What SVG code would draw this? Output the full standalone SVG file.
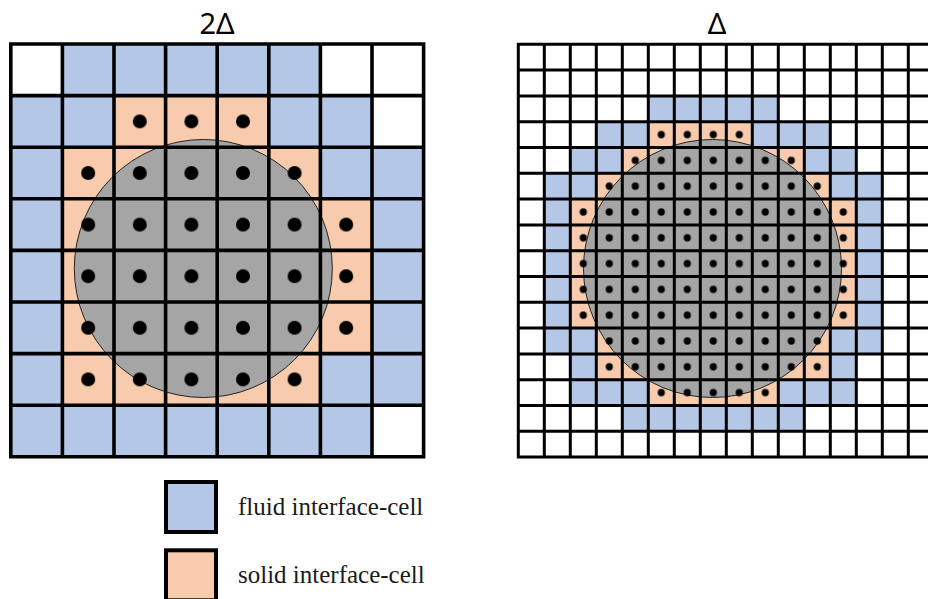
<svg xmlns="http://www.w3.org/2000/svg" width="928" height="599" viewBox="0 0 928 599">
<style>
.blue{fill:#b4c7e7}
.orange{fill:#f8cbad}
.disk{fill:#a5a5a5;stroke:#222;stroke-width:1}
.gridL{fill:none;stroke:#000;stroke-width:3.6;stroke-linecap:square}
.gridR{fill:none;stroke:#000;stroke-width:3;stroke-linecap:square}
.title{font-family:"Noto Sans","Liberation Sans",sans-serif;font-size:29px;fill:#000;text-anchor:middle}
.legend{font-family:"Liberation Serif","Times New Roman",serif;font-size:25px;fill:#1a1a1a}
</style>
<defs>
<pattern id="dotsL" patternUnits="userSpaceOnUse" x="10.8" y="44" width="51.6" height="51.6">
<circle cx="25.8" cy="25.8" r="7" fill="#000"/>
</pattern>
<pattern id="dotsR" patternUnits="userSpaceOnUse" x="518.3" y="44.3" width="26" height="25.8">
<circle cx="13" cy="12.9" r="3.6" fill="#000"/>
</pattern>
</defs>
<rect width="928" height="599" fill="#fff"/>

<g id="grid-2delta">
<text class="title" x="217" y="33.5">2Δ</text>
<g class="blue">
<rect x="62.4" y="44" width="258" height="51.6"/>
<rect x="10.8" y="95.6" width="51.6" height="361.2"/>
<rect x="62.4" y="95.6" width="51.6" height="51.6"/>
<rect x="268.8" y="95.6" width="103.2" height="51.6"/>
<rect x="320.4" y="147.2" width="51.6" height="51.6"/>
<rect x="372" y="147.2" width="51.6" height="258"/>
<rect x="320.4" y="353.6" width="51.6" height="51.6"/>
<rect x="62.4" y="405.2" width="309.6" height="51.6"/>
</g>
<g class="orange">
<rect x="114" y="95.6" width="154.8" height="51.6"/>
<rect x="62.4" y="147.2" width="258" height="51.6"/>
<rect x="62.4" y="198.8" width="309.6" height="154.8"/>
<rect x="62.4" y="353.6" width="258" height="51.6"/>
</g>
<circle class="disk" cx="203.3" cy="268.5" r="129"/>
<path class="gridL" d="M10.8 44v412.8m51.6-412.8v412.8m51.6-412.8v412.8m51.6-412.8v412.8m51.6-412.8v412.8m51.6-412.8v412.8m51.6-412.8v412.8m51.6-412.8v412.8m51.6-412.8v412.8M10.8 44h412.8m-412.8 51.6h412.8m-412.8 51.6h412.8m-412.8 51.6h412.8m-412.8 51.6h412.8m-412.8 51.6h412.8m-412.8 51.6h412.8m-412.8 51.6h412.8m-412.8 51.6h412.8"/>
<g fill="url(#dotsL)">
<rect x="114" y="95.6" width="154.8" height="51.6"/>
<rect x="62.4" y="147.2" width="258" height="51.6"/>
<rect x="62.4" y="198.8" width="309.6" height="154.8"/>
<rect x="62.4" y="353.6" width="258" height="51.6"/>
</g>
</g>

<g id="grid-delta">
<text class="title" x="717" y="33.5">Δ</text>
<g class="blue">
<rect x="648.3" y="95.9" width="130" height="25.8"/>
<rect x="596.3" y="121.7" width="52" height="25.8"/>
<rect x="752.3" y="121.7" width="78" height="25.8"/>
<rect x="570.3" y="147.5" width="52" height="25.8"/>
<rect x="804.3" y="147.5" width="52" height="25.8"/>
<rect x="544.3" y="173.3" width="26" height="180.6"/>
<rect x="856.3" y="173.3" width="26" height="180.6"/>
<rect x="570.3" y="173.3" width="26" height="25.8"/>
<rect x="830.3" y="173.3" width="26" height="25.8"/>
<rect x="570.3" y="328.1" width="26" height="77.4"/>
<rect x="830.3" y="328.1" width="26" height="77.4"/>
<rect x="596.3" y="379.7" width="52" height="25.8"/>
<rect x="778.3" y="379.7" width="52" height="25.8"/>
<rect x="622.3" y="405.5" width="182" height="25.8"/>
</g>
<g class="orange">
<rect x="648.3" y="121.7" width="104" height="25.8"/>
<rect x="622.3" y="147.5" width="182" height="25.8"/>
<rect x="596.3" y="173.3" width="234" height="25.8"/>
<rect x="570.3" y="199.1" width="286" height="129"/>
<rect x="596.3" y="328.1" width="234" height="51.6"/>
<rect x="648.3" y="379.7" width="130" height="25.8"/>
</g>
<circle class="disk" cx="712.5" cy="268.5" r="129"/>
<path class="gridR" d="M518.3 44.3v412.8m26-412.8v412.8m26-412.8v412.8m26-412.8v412.8m26-412.8v412.8m26-412.8v412.8m26-412.8v412.8m26-412.8v412.8m26-412.8v412.8m26-412.8v412.8m26-412.8v412.8m26-412.8v412.8m26-412.8v412.8m26-412.8v412.8m26-412.8v412.8m26-412.8v412.8m26-412.8v412.8M518.3 44.3h416m-416 25.8h416m-416 25.8h416m-416 25.8h416m-416 25.8h416m-416 25.8h416m-416 25.8h416m-416 25.8h416m-416 25.8h416m-416 25.8h416m-416 25.8h416m-416 25.8h416m-416 25.8h416m-416 25.8h416m-416 25.8h416m-416 25.8h416m-416 25.8h416"/>
<g fill="url(#dotsR)">
<rect x="648.3" y="121.7" width="104" height="25.8"/>
<rect x="622.3" y="147.5" width="182" height="25.8"/>
<rect x="596.3" y="173.3" width="234" height="25.8"/>
<rect x="570.3" y="199.1" width="286" height="129"/>
<rect x="596.3" y="328.1" width="234" height="51.6"/>
<rect x="648.3" y="379.7" width="130" height="25.8"/>
</g>
</g>

<g id="legend-fluid">
<rect class="blue" x="166" y="482" width="50" height="50" stroke="#000" stroke-width="4"/>
<text class="legend" x="238" y="515">fluid interface-cell</text>
</g>
<g id="legend-solid">
<rect class="orange" x="166" y="550.3" width="50" height="50" stroke="#000" stroke-width="4"/>
<text class="legend" x="238" y="583">solid interface-cell</text>
</g>
</svg>
